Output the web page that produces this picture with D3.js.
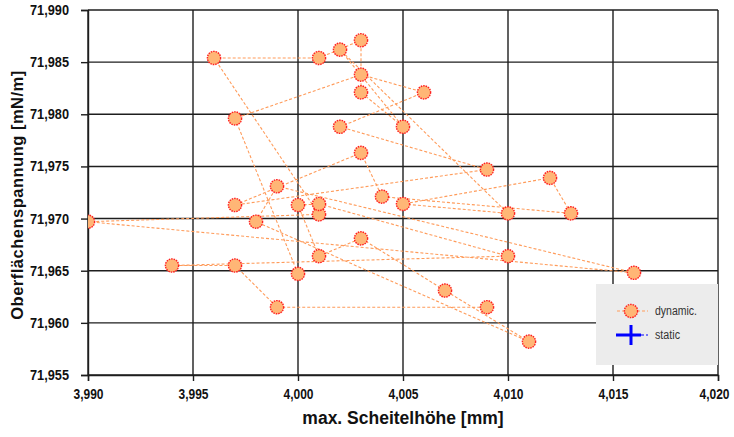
<!DOCTYPE html>
<html>
<head>
<meta charset="utf-8">
<script src="https://cdn.jsdelivr.net/npm/d3@7"></script>
<style>
  body { margin: 0; background: #fff; }
  text { font-family: "Liberation Sans", Arial, sans-serif; }
</style>
</head>
<body>
<svg id="chart" width="734" height="437"></svg>
<script>
// measurement series, in the order the points were taken
const heights = [4.000, 3.997, 4.003, 4.006, 4.002, 4.009, 3.997, 4.003, 4.004, 4.013,
                 4.012, 4.005, 4.010, 4.002, 4.005, 4.003, 4.003, 4.001, 3.996, 4.001,
                 3.990, 4.016, 3.999, 3.998, 4.011, 4.007, 4.003, 4.001, 4.000, 4.001,
                 4.010, 3.994, 3.997, 3.999, 4.009];
const tensions = [71.9647, 71.9796, 71.9838, 71.9821, 71.9788, 71.9747, 71.9713, 71.9763, 71.9721, 71.9705,
                  71.9739, 71.9714, 71.9705, 71.9862, 71.9788, 71.9821, 71.9871, 71.9854, 71.9854, 71.9704,
                  71.9697, 71.9648, 71.9731, 71.9697, 71.9582, 71.9631, 71.9681, 71.9664, 71.9713, 71.9714,
                  71.9664, 71.9655, 71.9655, 71.9615, 71.9615];
const xTicks = [3.990, 3.995, 4.000, 4.005, 4.010, 4.015, 4.020];
const yTicks = [71.955, 71.960, 71.965, 71.970, 71.975, 71.980, 71.985, 71.990];
const seriesNames = ["dynamic.", "static"];

const svg = d3.select("#chart");
const plotL = 88, plotR = 718, plotT = 10, plotB = 375;

const x = d3.scaleLinear().domain([3.990, 4.020]).range([plotL, plotR]);
const y = d3.scaleLinear().domain([71.955, 71.990]).range([plotB, plotT]);
const fmt = v => d3.format(".3f")(v).replace(".", ",");

// grid
svg.append("g").selectAll("line")
    .data(xTicks).enter().append("line")
    .attr("x1", d => x(d)).attr("x2", d => x(d))
    .attr("y1", plotT).attr("y2", plotB)
    .attr("stroke", "#1e1e1e").attr("stroke-width", 1.4);
svg.append("g").selectAll("line")
    .data(yTicks).enter().append("line")
    .attr("x1", plotL).attr("x2", plotR)
    .attr("y1", d => y(d)).attr("y2", d => y(d))
    .attr("stroke", "#1e1e1e").attr("stroke-width", 1.4);

// axes
const xAxis = svg.append("g")
    .attr("transform", `translate(0,${plotB})`)
    .call(d3.axisBottom(x).tickValues(xTicks).tickFormat(fmt).tickSize(6).tickPadding(8));
const yAxis = svg.append("g")
    .attr("transform", `translate(${plotL},0)`)
    .call(d3.axisLeft(y).tickValues(yTicks).tickFormat(fmt).tickSize(7).tickPadding(12));
[xAxis, yAxis].forEach(g => {
    g.select(".domain").attr("stroke", "#1e1e1e").attr("stroke-width", 1.4);
    g.selectAll(".tick line").attr("stroke", "#1e1e1e").attr("stroke-width", 1.4);
    g.selectAll("text")
        .attr("fill", "#111")
        .attr("lengthAdjust", "spacingAndGlyphs")
        .style("font-weight", "bold")
        .style("font-size", "14px");
});
xAxis.selectAll("text").attr("textLength", 30);
yAxis.selectAll("text").attr("textLength", 39);
// keep the last label inside the picture
xAxis.selectAll(".tick").filter(d => d === 4.020).select("text").attr("dx", -4);

// titles
svg.append("text")
    .attr("x", 403).attr("y", 424)
    .attr("text-anchor", "middle")
    .style("font-weight", "bold").style("font-size", "17.5px")
    .attr("fill", "#111")
    .text("max. Scheitelhöhe [mm]");
svg.append("text")
    .attr("transform", "translate(23,195) rotate(-90)")
    .attr("text-anchor", "middle")
    .style("font-weight", "bold").style("font-size", "16.5px")
    .style("letter-spacing", "0.5px")
    .attr("fill", "#111")
    .text("Oberflächenspannung [mN/m]");

// series
svg.append("clipPath").attr("id", "plotClip")
    .append("rect").attr("x", plotL).attr("y", plotT)
    .attr("width", plotR - plotL).attr("height", plotB - plotT);

const pts = heights.map((h, i) => [h, tensions[i]]);
const plot = svg.append("g").attr("clip-path", "url(#plotClip)");

plot.append("path")
    .datum(pts)
    .attr("d", d3.line().x(d => x(d[0])).y(d => y(d[1])))
    .attr("fill", "none")
    .attr("stroke", "#ff9b5a")
    .attr("stroke-width", 1.1)
    .attr("stroke-dasharray", "3,2");

plot.selectAll("circle")
    .data(pts).enter().append("circle")
    .attr("cx", d => x(d[0])).attr("cy", d => y(d[1]))
    .attr("r", 6.6)
    .attr("fill", "#ffb676")
    .attr("stroke", "#ff2020")
    .attr("stroke-width", 1.4)
    .attr("stroke-dasharray", "1.6,0.9");

// legend
const lg = svg.append("g").attr("transform", "translate(596,284)");
lg.append("rect").attr("width", 122).attr("height", 81).attr("fill", "#ececec");

lg.append("line").attr("x1", 21).attr("x2", 52).attr("y1", 27).attr("y2", 27)
    .attr("stroke", "#ff9b5a").attr("stroke-width", 1.1).attr("stroke-dasharray", "3,2");
lg.append("circle").attr("cx", 35).attr("cy", 27).attr("r", 6.6)
    .attr("fill", "#ffb676").attr("stroke", "#ff2020")
    .attr("stroke-width", 1.4).attr("stroke-dasharray", "1.6,0.9");

lg.append("line").attr("x1", 20).attr("x2", 52).attr("y1", 51).attr("y2", 51)
    .attr("stroke", "#0000ff").attr("stroke-width", 1.1).attr("stroke-dasharray", "3,2");
lg.append("line").attr("x1", 20).attr("x2", 45).attr("y1", 51).attr("y2", 51)
    .attr("stroke", "#0000ff").attr("stroke-width", 3);
lg.append("line").attr("x1", 35).attr("x2", 35).attr("y1", 41).attr("y2", 61)
    .attr("stroke", "#0000ff").attr("stroke-width", 3);

lg.selectAll("text")
    .data(seriesNames).enter().append("text")
    .attr("x", 59).attr("y", (d, i) => 31 + i * 24)
    .attr("lengthAdjust", "spacingAndGlyphs")
    .attr("textLength", (d, i) => i === 0 ? 42 : 25)
    .style("font-size", "12px")
    .attr("fill", "#333")
    .text(d => d);
</script>
</body>
</html>
